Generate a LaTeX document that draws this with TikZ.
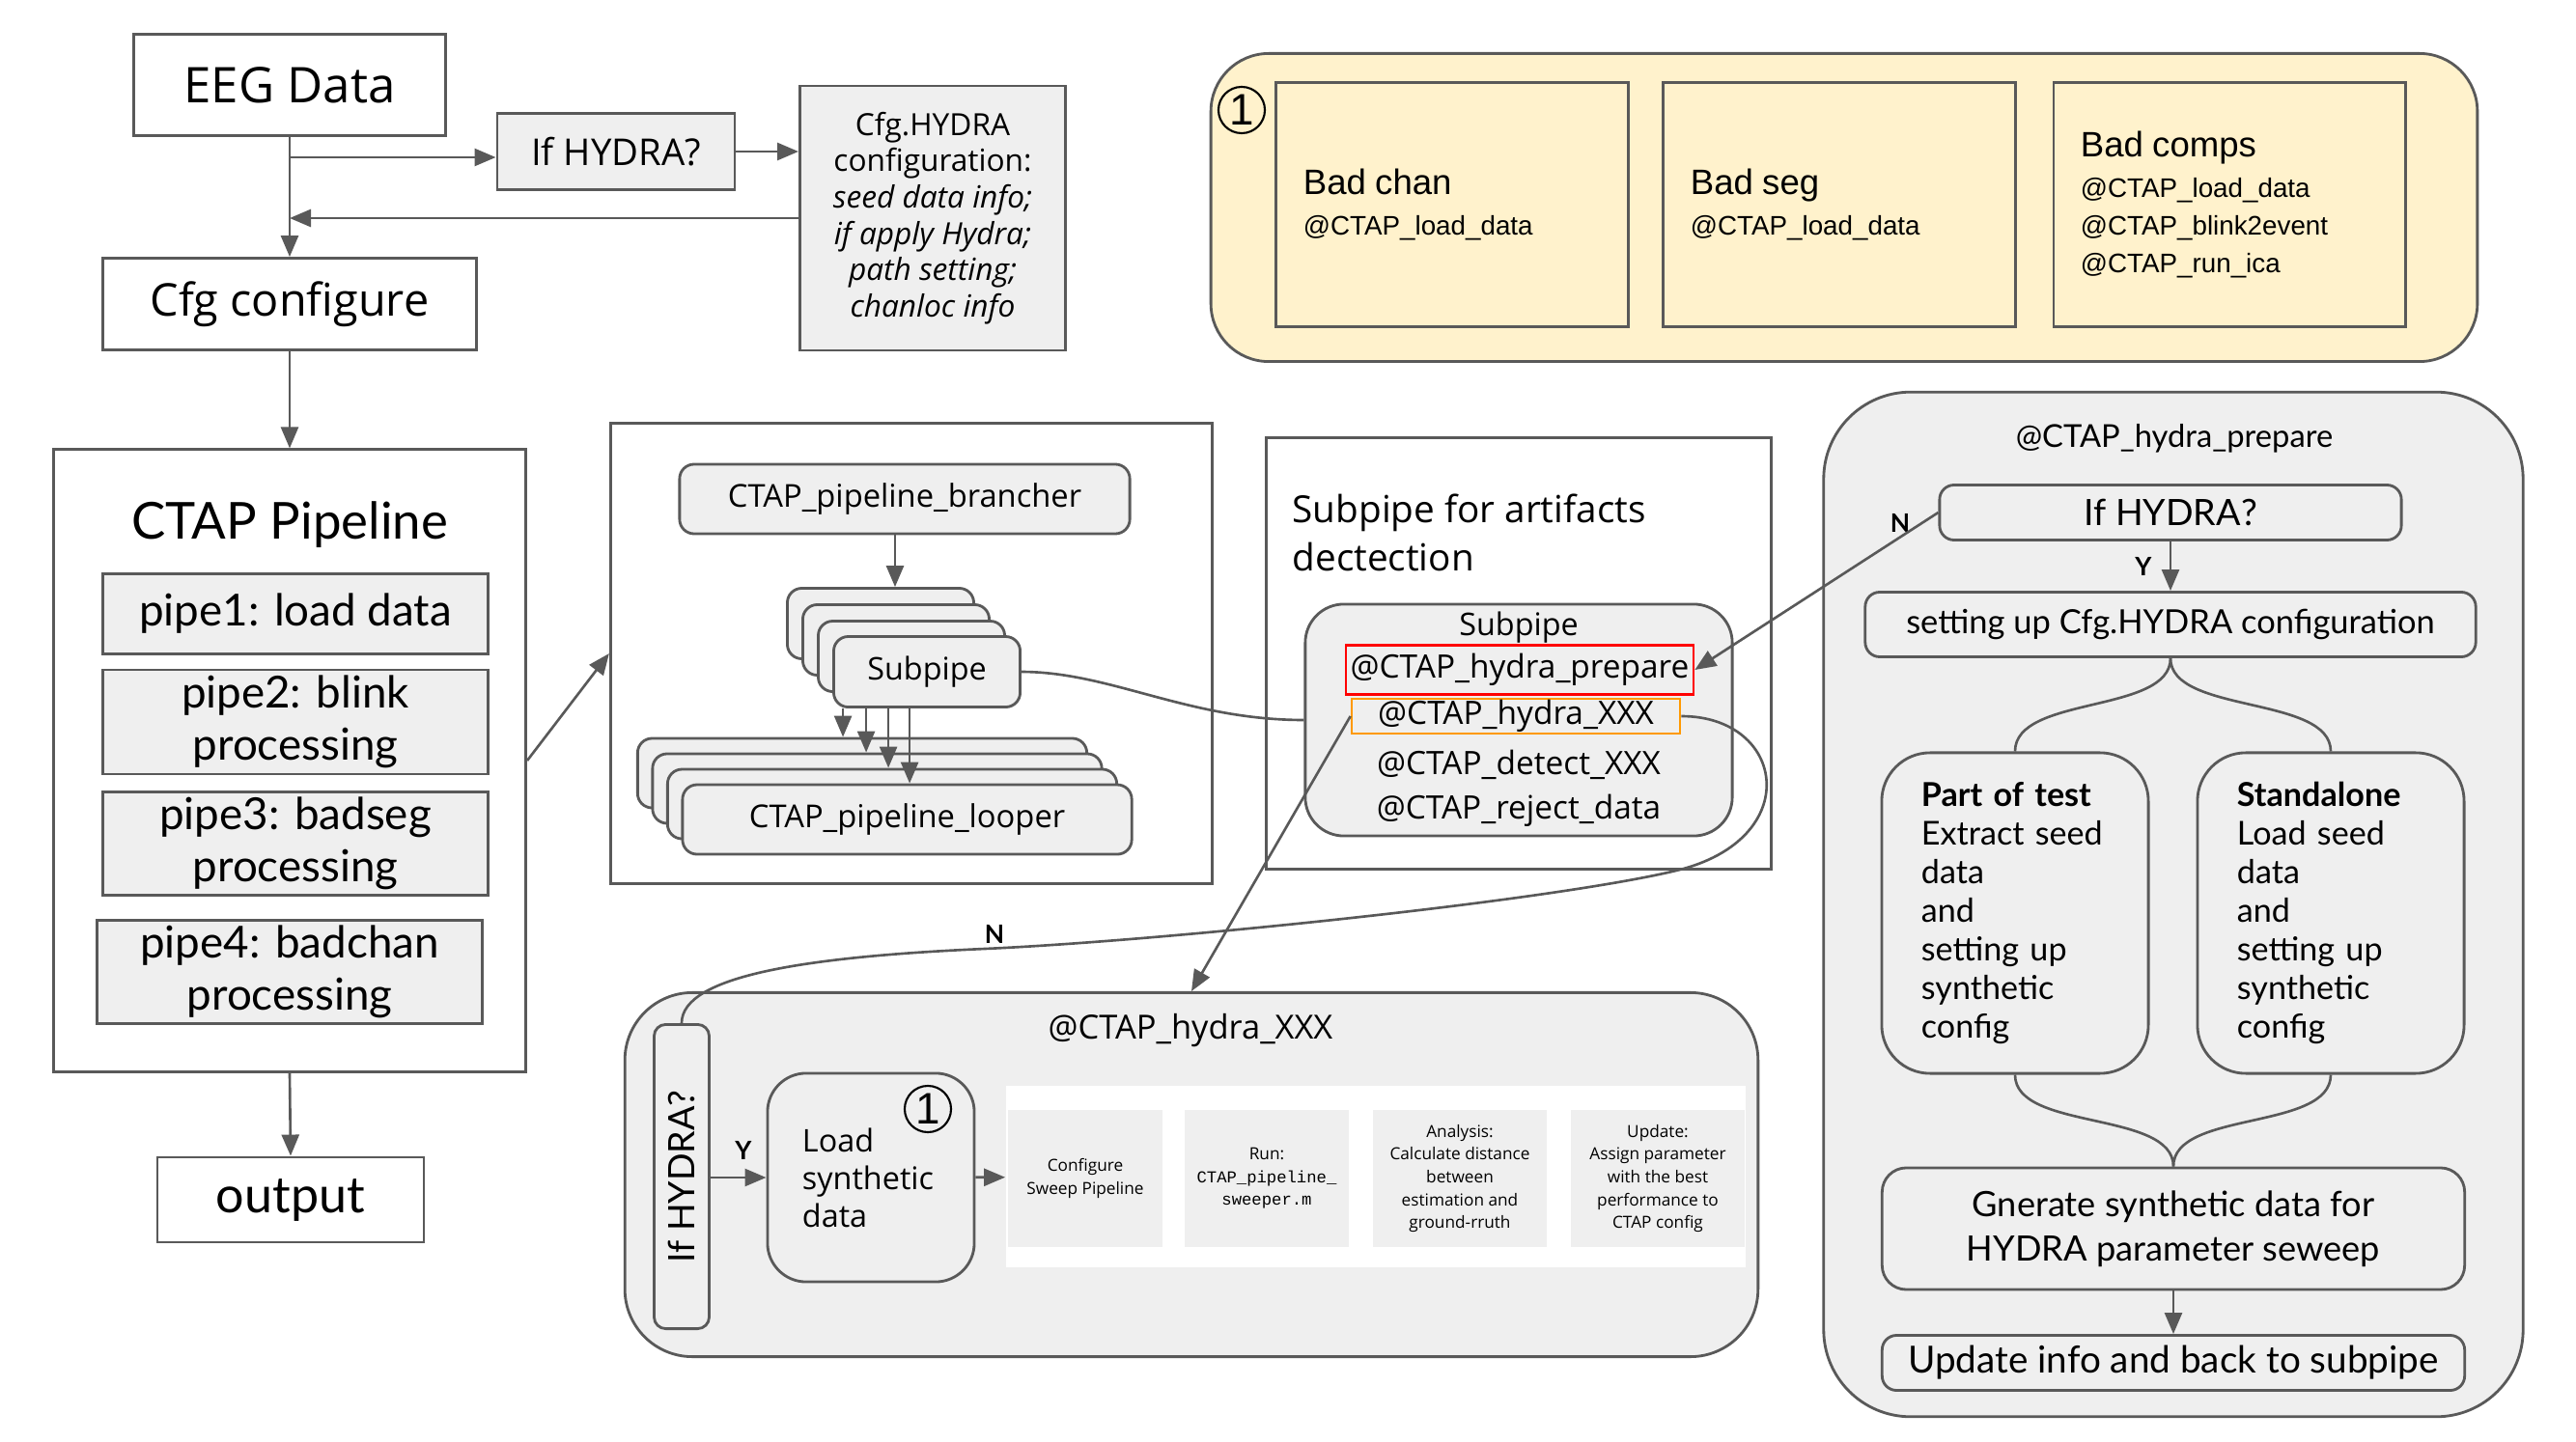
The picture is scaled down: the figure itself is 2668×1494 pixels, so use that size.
\documentclass[tikz,border=0pt]{standalone}
\usepackage{fontspec}
\setmainfont{Open Sans}
\setmonofont{Liberation Mono}
\newfontfamily\roundfont{Lato}
\newfontfamily\arialfont{Liberation Sans}
\usepackage{tikz}
\usetikzlibrary{arrows.meta, positioning, calc}
\definecolor{linegray}{HTML}{595959}
\definecolor{boxgray}{HTML}{EFEFEF}
\definecolor{paleyellow}{HTML}{FFF2CC}
\definecolor{hlorange}{HTML}{FF9900}
\definecolor{hlred}{HTML}{FF0000}
\newcommand{\fsz}[2]{\fontsize{#1}{#2}\selectfont}
\tikzset{
    shapenode/.style = {draw=linegray, line width=0.8pt, rectangle, fill=white, inner sep=0em, node distance=0em, align=center},
    graynode/.style = {shapenode, fill=boxgray},
    roundnode/.style = {graynode, rounded corners=0.15cm},
    stacknode/.style = {roundnode, minimum width=1.93cm, minimum height=0.73cm},
    loopnode/.style = {roundnode, minimum width=4.65cm, minimum height=0.72cm},
    pipenode/.style = {graynode, minimum width=3.99cm, font=\roundfont\fsz{13}{15.5}},
    yelbox/.style = {shapenode, fill=paleyellow, minimum width=3.64cm, minimum height=2.53cm, text width=3.08cm, align=left, font=\arialfont\fsz{7.9}{11.1}},
    choicenode/.style = {graynode, rounded corners=0.5cm, minimum width=2.76cm, minimum height=3.32cm, text width=1.94cm, align=left, font=\roundfont\fsz{9.7}{11.4}},
    textnode/.style = {draw=none, fill=none, rectangle, inner sep=0em, node distance=0em, align=center},
    circlenode/.style = {circle, draw=black, line width=0.6pt, inner sep=0em, minimum size=0.48cm, font=\arialfont\fsz{13}{13}},
    smallbox/.style = {rectangle, fill=boxgray, inner sep=0em, align=center, minimum height=1.41cm, font=\fsz{4.9}{6.7}},
    ynlabel/.style = {textnode, font=\roundfont\bfseries\fsz{7.5}{8}},
    connect/.style = {draw=linegray, line width=0.75pt, -{Triangle[length=0.22cm, width=0.18cm]}},
    plainline/.style = {draw=linegray, line width=0.75pt}
}
\begin{document}
\begin{tikzpicture}[x=0.01cm, y=-0.01cm]
    \useasboundingbox (0,0) rectangle (2668,1494);

    \node [shapenode, name=eeg, minimum width=3.23cm, minimum height=1.05cm, font=\fsz{14.5}{17}] at (300,88) {EEG Data};
    \node [graynode, name=ifhyd, minimum width=2.46cm, minimum height=0.79cm, font=\fsz{10.9}{13}] at (638,157) {If HYDRA?};
    \node [graynode, name=hydcfg, minimum width=2.75cm, minimum height=2.74cm, font=\fsz{9}{10.7}] at (966,226) {Cfg.HYDRA\\configuration:\\\textit{seed data info;}\\\textit{if apply Hydra;}\\\textit{path setting;}\\\textit{chanloc info}};
    \node [shapenode, name=cfgconf, minimum width=3.86cm, minimum height=0.95cm, font=\fsz{13.3}{16}] at (300,315) {Cfg configure};

    \node [shapenode, name=pipeline, minimum width=4.89cm, minimum height=6.44cm] at (300,788) {};
    \node [textnode, name=pipetitle, font=\roundfont\fsz{15}{18}] at (300,544) {CTAP Pipeline};
    \node [pipenode, name=pipe1, minimum height=0.83cm] at (306,636) {pipe1: load data};
    \node [pipenode, name=pipe2, minimum height=1.08cm] at (306,748) {pipe2: blink\\processing};
    \node [pipenode, name=pipe3, minimum height=1.07cm] at (306,874) {pipe3: badseg\\processing};
    \node [pipenode, name=pipe4, minimum height=1.07cm] at (300,1007) {pipe4: badchan\\processing};
    \node [shapenode, name=output, minimum width=2.76cm, minimum height=0.88cm, font=\roundfont\fsz{14.8}{17}] at (301,1243) {output};

    \node [shapenode, name=brframe, minimum width=6.23cm, minimum height=4.76cm] at (944,677) {};
    \node [roundnode, name=brancher, minimum width=4.66cm, minimum height=0.72cm, font=\fsz{9.3}{11}] at (937,517) {CTAP\_pipeline\_brancher};
    \node [stacknode, name=sub0] at (912,646) {};
    \node [stacknode, name=sub1, right of=sub0, xshift=0.16cm, yshift=-0.17cm] {};
    \node [stacknode, name=sub2, right of=sub1, xshift=0.16cm, yshift=-0.17cm] {};
    \node [stacknode, name=sub3, right of=sub2, xshift=0.16cm, yshift=-0.16cm, font=\fsz{9.2}{11}] {Subpipe};
    \node [loopnode, name=loop0] at (893,801) {};
    \node [loopnode, name=loop1, right of=loop0, xshift=0.155cm, yshift=-0.16cm] {};
    \node [loopnode, name=loop2, right of=loop1, xshift=0.155cm, yshift=-0.16cm] {};
    \node [loopnode, name=loop3, right of=loop2, xshift=0.155cm, yshift=-0.16cm, font=\fsz{9.3}{11}] {CTAP\_pipeline\_looper};

    \node [shapenode, name=artframe, minimum width=5.23cm, minimum height=4.47cm] at (1573,677) {};
    \node [textnode, name=arttitle, anchor=west, align=left, font=\fsz{11}{14.2}] at (1338,552) {Subpipe for artifacts\\dectection};
    \node [graynode, name=subbox, rounded corners=0.4cm, minimum width=4.42cm, minimum height=2.4cm] at (1573,746) {};
    \node [textnode, name=subtitle, font=\fsz{9.2}{11}] at (1573,650) {Subpipe};
    \node [textnode, name=hprep, draw=hlred, line width=0.7pt, minimum width=3.6cm, minimum height=0.51cm, font=\fsz{9.5}{11}] at (1574,694) {@CTAP\_hydra\_prepare};
    \node [textnode, name=hxxxref, draw=hlorange, line width=0.7pt, minimum width=3.4cm, minimum height=0.36cm, font=\fsz{9.5}{11}] at (1570,742) {@CTAP\_hydra\_XXX};
    \node [textnode, name=detect, font=\fsz{9.5}{11}] at (1573,792) {@CTAP\_detect\_XXX};
    \node [textnode, name=reject, font=\fsz{9.5}{11}] at (1573,840) {@CTAP\_reject\_data};

    \node [shapenode, name=yellow, fill=paleyellow, rounded corners=0.6cm, minimum width=13.11cm, minimum height=3.19cm] at (1910,215) {};
    \node [circlenode, name=oneA] at (1286,114) {1};
    \node [yelbox, name=badchan] at (1504,212) {{\fsz{10.4}{12}Bad chan}\\[1pt]@CTAP\_load\_data};
    \node [yelbox, name=badseg] at (1905,212) {{\fsz{10.4}{12}Bad seg}\\[1pt]@CTAP\_load\_data};
    \node [yelbox, name=badcomps] at (2309,212) {{\fsz{10.4}{12}Bad comps}\\[1pt]@CTAP\_load\_data\\@CTAP\_blink2event\\@CTAP\_run\_ica};

    \node [graynode, name=prepframe, rounded corners=0.9cm, minimum width=7.24cm, minimum height=10.61cm] at (2251,937) {};
    \node [textnode, name=preptitle, font=\roundfont\fsz{9.3}{11}] at (2252,454) {@CTAP\_hydra\_prepare};
    \node [roundnode, name=hifh, minimum width=4.78cm, minimum height=0.57cm, font=\roundfont\fsz{10.7}{12}] at (2248,531) {If HYDRA?};
    \node [roundnode, name=setting, minimum width=6.32cm, minimum height=0.67cm, font=\roundfont\fsz{9.8}{12}] at (2248,647) {setting up Cfg.HYDRA configuration};
    \node [choicenode, name=partof] at (2087,946) {\textbf{Part of test}\\Extract seed\\data\\and\\setting up\\synthetic\\config};
    \node [choicenode, name=standalone] at (2414,946) {\textbf{Standalone}\\Load seed\\data\\and\\setting up\\synthetic\\config};
    \node [roundnode, name=gnerate, rounded corners=0.25cm, minimum width=6.03cm, minimum height=1.26cm, font=\roundfont\fsz{10.3}{13.2}] at (2251,1273) {Gnerate synthetic data for\\HYDRA parameter seweep};
    \node [roundnode, name=update, minimum width=6.03cm, minimum height=0.57cm, font=\roundfont\fsz{11}{13}] at (2251,1412) {Update info and back to subpipe};

    \node [graynode, name=hxxx, rounded corners=0.7cm, minimum width=11.73cm, minimum height=3.77cm] at (1234,1217) {};
    \node [textnode, name=hxxxtitle, font=\fsz{9.8}{11}] at (1233,1068) {@CTAP\_hydra\_XXX};
    \node [roundnode, name=vifh, rounded corners=0.12cm, minimum width=0.57cm, minimum height=3.15cm] at (706,1219) {};
    \node [textnode, name=vifhtext, rotate=90, font=\roundfont\fsz{10.7}{12}] at (706,1219) {If HYDRA?};
    \node [roundnode, name=load, rounded corners=0.4cm, minimum width=2.14cm, minimum height=2.16cm, text width=1.42cm, align=left, font=\fsz{9.2}{11.1}] at (902,1220) {Load\\synthetic\\data};
    \node [circlenode, name=oneB] at (961,1149) {1};
    \node [rectangle, fill=white, name=panel, minimum width=7.66cm, minimum height=1.88cm] at (1425,1219) {};
    \node [smallbox, name=conf, minimum width=1.6cm] at (1124,1221) {Configure\\Sweep Pipeline};
    \node [smallbox, name=run, minimum width=1.69cm] at (1312,1221) {Run:\\\texttt{CTAP\_pipeline\_}\\\texttt{sweeper.m}};
    \node [smallbox, name=ana, minimum width=1.79cm] at (1512,1221) {Analysis:\\Calculate distance\\between\\estimation and\\ground-rruth};
    \node [smallbox, name=upd, minimum width=1.8cm] at (1717,1221) {Update:\\Assign parameter\\with the best\\performance to\\CTAP config};

    \node [ynlabel, name=nright] at (1968,542) {N};
    \node [ynlabel, name=yright] at (2220,587) {Y};
    \node [ynlabel, name=nleft] at (1030,968) {N};
    \node [ynlabel, name=yleft] at (770,1192) {Y};

    \coordinate (ifin) at ([yshift=-0.06cm]ifhyd.west);
    \coordinate (bs) at ([xshift=-0.1cm]brancher.south);
    \coordinate (t0) at ([xshift=0.11cm]sub3.south west);
    \coordinate (t1) at ([xshift=0.35cm]sub3.south west);
    \coordinate (t2) at ([xshift=0.58cm]sub3.south west);
    \coordinate (t3) at ([xshift=0.80cm]sub3.south west);

    \draw [connect] (eeg) -- (cfgconf);
    \draw [connect] (eeg.south |- ifin) -- (ifin);
    \draw [connect] (ifhyd.east) -- (ifhyd.east -| hydcfg.west);
    \draw [connect] (hydcfg.west) -- (hydcfg.west -| eeg.south);
    \draw [connect] (cfgconf) -- (pipeline);
    \draw [connect] (pipeline.south) -- (output.north);
    \draw [connect] (pipeline.east) -- (brframe.west);
    \draw [connect] (bs) -- (bs |- sub0.north);
    \draw [connect] (t0) -- (t0 |- loop0.north);
    \draw [connect] (t1) -- (t1 |- loop1.north);
    \draw [connect] (t2) -- (t2 |- loop2.north);
    \draw [connect] (t3) -- (t3 |- loop3.north);
    \draw [plainline] (sub3.east) .. controls (1150,696) and (1230,746) .. (subbox.west);
    \draw [connect] (hifh.west) -- (hprep.east);
    \draw [connect] (hxxxref.west) -- (hxxx.north);
    \draw [plainline] (hxxxref.east) .. controls (1850,742) and (1870,870) .. (1736,902) .. controls (1602,934) and (1200,975) .. (1020,983) .. controls (840,991) and (706,1010) .. (vifh.north);
    \draw [connect] (hifh) -- (setting);
    \draw [plainline] (setting.south) .. controls (2248,740) and (2087,720) .. (partof.north);
    \draw [plainline] (setting.south) .. controls (2248,740) and (2414,720) .. (standalone.north);
    \draw [plainline] (partof.south) .. controls (2087,1172) and (2251,1150) .. (gnerate.north);
    \draw [plainline] (standalone.south) .. controls (2414,1172) and (2251,1150) .. (gnerate.north);
    \draw [connect] (gnerate) -- (update);
    \draw [connect] (vifh.east |- load.west) -- (load.west);
    \draw [connect] (load) -- (panel);
\end{tikzpicture}
\end{document}
